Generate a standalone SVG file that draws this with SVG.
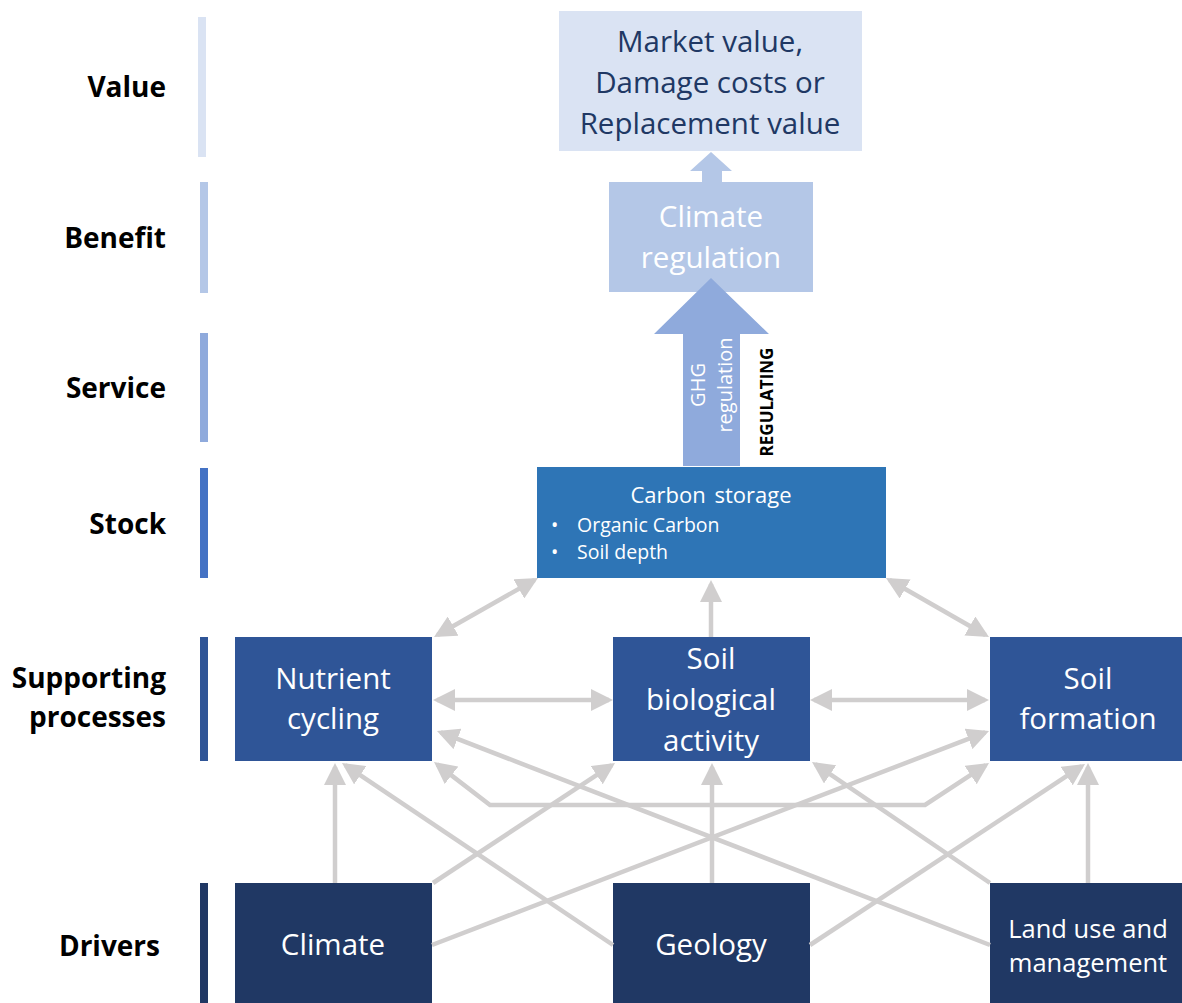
<svg xmlns="http://www.w3.org/2000/svg" width="1182" height="1003" viewBox="0 0 1182 1003">
<style>
.lbl{font-family:"Open Sans","Liberation Sans",sans-serif;font-weight:bold;font-size:28px;fill:#000;text-anchor:end}
.big{font-family:"Open Sans","Liberation Sans",sans-serif;font-size:29.5px;fill:#fff;text-anchor:middle}
.val{fill:#203864}
.drv{font-size:25.5px}
.sm{font-family:"Open Sans","Liberation Sans",sans-serif;font-size:19.5px;fill:#fff}
.rot{font-size:20px;text-anchor:middle}
.ttl{font-size:22px;text-anchor:middle;word-spacing:3px}
.con{fill:none;stroke:#D0CECE;stroke-width:4.5;marker-end:url(#ah)}
.dbl{marker-start:url(#ah)}
.sup{fill:#2F5597}
.drvbox{fill:#203864}
</style>
<defs>
<marker id="ah" viewBox="0 0 22 22" refX="18" refY="11" markerWidth="22" markerHeight="22" markerUnits="userSpaceOnUse" orient="auto-start-reverse">
<path d="M0,0 L22,11 L0,22 z" fill="#D0CECE"/>
</marker>
</defs>
<rect width="1182" height="1003" fill="#fff"/>

<g id="levels">
<rect x="198" y="17" width="8" height="140" fill="#DAE3F3"/>
<rect x="200" y="182" width="8" height="111" fill="#B4C7E7"/>
<rect x="200" y="333" width="8" height="109" fill="#8FAADC"/>
<rect x="200" y="468" width="8" height="110" fill="#4472C4"/>
<rect x="200" y="637" width="8" height="124" fill="#2F5597"/>
<rect x="200" y="883" width="8" height="120" fill="#203864"/>
<text class="lbl" x="166" y="97">Value</text>
<text class="lbl" x="166" y="248">Benefit</text>
<text class="lbl" x="166" y="398">Service</text>
<text class="lbl" x="166" y="534">Stock</text>
<text class="lbl" x="166" y="688">Supporting</text>
<text class="lbl" x="166" y="727">processes</text>
<text class="lbl" x="160" y="956">Drivers</text>
</g>

<g id="value">
<rect x="559" y="11" width="303" height="140" fill="#DAE3F3"/>
<text class="big val" x="710" y="52">Market value,</text>
<text class="big val" x="710" y="93">Damage costs or</text>
<text class="big val" x="710" y="134">Replacement value</text>
</g>

<g id="benefit-arrow">
<polygon points="711,152 732,171 722,171 722,183 702,183 702,171 690,171" fill="#B4C7E7"/>
</g>

<g id="benefit">
<rect x="609" y="182" width="204" height="110" fill="#B4C7E7"/>
<text class="big" x="711" y="227">Climate</text>
<text class="big" x="711" y="268">regulation</text>
</g>

<g id="service">
<polygon points="711,278 769,334 740,334 740,466 683,466 683,334 654,334" fill="#8FAADC"/>
<text class="sm rot" transform="translate(705,385) rotate(-90)">GHG</text>
<text class="sm rot" transform="translate(732,385) rotate(-90)">regulation</text>
<text font-family="'Open Sans','Liberation Sans',sans-serif" font-weight="bold" font-size="17" fill="#000" text-anchor="middle" transform="translate(773,402) rotate(-90)">REGULATING</text>
</g>

<g id="stock">
<rect x="537" y="467" width="349" height="111" fill="#2E75B6"/>
<text class="sm ttl" x="711" y="503">Carbon storage</text>
<text class="sm" x="551" y="532">•</text>
<text class="sm" x="577" y="532">Organic Carbon</text>
<text class="sm" x="551" y="559">•</text>
<text class="sm" x="577" y="559">Soil depth</text>
</g>

<g id="nutrient">
<rect class="sup" x="235" y="637" width="197" height="124"/>
<text class="big" x="333" y="689">Nutrient</text>
<text class="big" x="333" y="729">cycling</text>
</g>
<g id="soilbio">
<rect class="sup" x="613" y="637" width="197" height="124"/>
<text class="big" x="711" y="669">Soil</text>
<text class="big" x="711" y="710">biological</text>
<text class="big" x="711" y="751">activity</text>
</g>
<g id="soilform">
<rect class="sup" x="990" y="637" width="197" height="124"/>
<text class="big" x="1088" y="689">Soil</text>
<text class="big" x="1088" y="729">formation</text>
</g>

<g id="climate">
<rect class="drvbox" x="235" y="883" width="197" height="120"/>
<text class="big" x="333" y="955">Climate</text>
</g>
<g id="geology">
<rect class="drvbox" x="613" y="883" width="197" height="120"/>
<text class="big" x="711" y="955">Geology</text>
</g>
<g id="landuse">
<rect class="drvbox" x="990" y="883" width="197" height="120"/>
<text class="big drv" x="1088" y="938">Land use and</text>
<text class="big drv" x="1088" y="972">management</text>
</g>

<g id="connectors">
<line class="con dbl" x1="437.5" y1="635" x2="534.5" y2="580"/>
<line class="con" x1="711" y1="637" x2="711" y2="584"/>
<line class="con dbl" x1="889.5" y1="580" x2="985.5" y2="635"/>
<line class="con dbl" x1="437" y1="700" x2="609" y2="700"/>
<line class="con dbl" x1="814" y1="700" x2="985" y2="700"/>
<polyline class="con dbl" points="437.2,764.4 490,805 925,805 985.7,765.2"/>
<line class="con" x1="335" y1="883" x2="335" y2="767"/>
<line class="con" x1="613" y1="945" x2="345.3" y2="765.2"/>
<line class="con" x1="433" y1="883" x2="611.7" y2="765.2"/>
<line class="con" x1="432" y1="945" x2="985.3" y2="732.4"/>
<line class="con" x1="712" y1="883" x2="712" y2="767"/>
<line class="con" x1="810" y1="945" x2="1081.7" y2="766.2"/>
<line class="con" x1="990" y1="883" x2="815.3" y2="764.2"/>
<line class="con" x1="1088" y1="883" x2="1088" y2="767"/>
<line class="con" x1="990" y1="945" x2="440.7" y2="732.4"/>
</g>
</svg>
